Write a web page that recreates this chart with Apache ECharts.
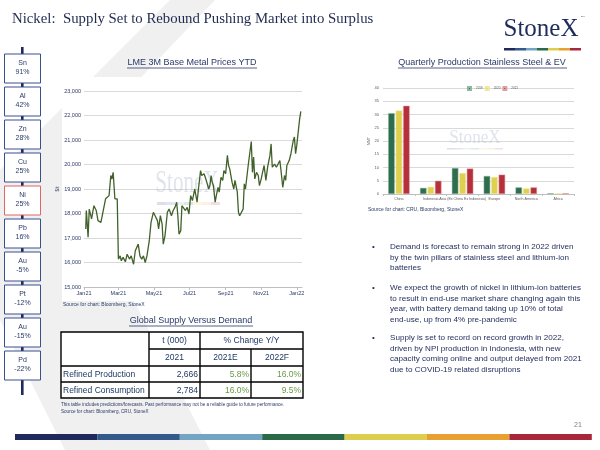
<!DOCTYPE html>
<html lang="en">
<head>
    <meta charset="UTF-8">
    <title>Nickel supply</title>
    <script src="https://cdn.jsdelivr.net/npm/echarts/dist/echarts.min.js"></script>
    <style>
        html, body { margin: 0; padding: 0; background: #fff; }
        #main { width: 600px; height: 450px; }
    </style>
</head>
<body>
<div id="main"></div>

<script>
    // LME 3M nickel, $/t
    var priceDates = [
        '2021-01-04','2021-01-05','2021-01-06','2021-01-08','2021-01-10','2021-01-14','2021-01-18','2021-01-22','2021-01-25','2021-01-30',
        '2021-02-03','2021-02-07','2021-02-10','2021-02-13','2021-02-16','2021-02-18','2021-02-20','2021-02-23','2021-02-25','2021-02-27',
        '2021-02-28','2021-03-01','2021-03-04','2021-03-06','2021-03-09','2021-03-13','2021-03-16','2021-03-20','2021-03-23','2021-03-27',
        '2021-03-30','2021-04-04','2021-04-07','2021-04-10','2021-04-13','2021-04-16','2021-04-19','2021-04-23','2021-04-26','2021-04-30',
        '2021-05-03','2021-05-07','2021-05-09','2021-05-12','2021-05-15','2021-05-17','2021-05-20','2021-05-24','2021-05-27','2021-05-31',
        '2021-06-03','2021-06-06','2021-06-09','2021-06-11','2021-06-13','2021-06-16','2021-06-18','2021-06-21','2021-06-24','2021-06-27',
        '2021-06-30','2021-07-03','2021-07-06','2021-07-10','2021-07-12','2021-07-14','2021-07-16','2021-07-20','2021-07-22','2021-07-26',
        '2021-07-29','2021-07-31','2021-08-03','2021-08-05','2021-08-07','2021-08-09','2021-08-11','2021-08-14','2021-08-16','2021-08-19',
        '2021-08-21','2021-08-24','2021-08-27','2021-08-29','2021-09-01','2021-09-04','2021-09-06','2021-09-08','2021-09-12','2021-09-15',
        '2021-09-17','2021-09-21','2021-09-23','2021-09-25','2021-09-28','2021-10-01','2021-10-03','2021-10-05','2021-10-08','2021-10-10',
        '2021-10-12','2021-10-15','2021-10-17','2021-10-19','2021-10-21','2021-10-24','2021-10-27','2021-10-29','2021-11-01','2021-11-04',
        '2021-11-06','2021-11-09','2021-11-12','2021-11-16','2021-11-18','2021-11-20','2021-11-24','2021-11-27','2021-11-30','2021-12-03',
        '2021-12-05','2021-12-08','2021-12-11','2021-12-13','2021-12-15','2021-12-19','2021-12-22','2021-12-26','2021-12-28','2021-12-30',
        '2022-01-01','2022-01-04','2022-01-06','2022-01-08'
    ];
    var nickelPrice = [
        17370, 18120, 17780, 17030, 18180, 17780, 18320, 18120, 17710, 17640,
        18120, 18600, 18530, 18730, 19550, 19410, 19680, 18600, 18660, 18600,
        17370, 16140, 16270, 16070, 16210, 16030, 16340, 16140, 16270, 15930,
        16480, 16750, 16270, 16140, 16270, 16000, 16270, 16890, 17640, 18050,
        17910, 17710, 17370, 17910, 17570, 16750, 17100, 18050, 18180, 17910,
        18120, 18250, 18460, 17910, 17160, 17300, 18320, 18320, 18120, 18250,
        17980, 18730, 18530, 19000, 18730, 18460, 18930, 19750, 19550, 19620,
        19410, 19480, 19000, 19140, 19550, 19280, 19140, 18460, 18730, 19070,
        18870, 19480, 19350, 19750, 19620, 20370, 19960, 19820, 19280, 19000,
        19350, 18870, 18050, 17910, 17910, 18180, 19210, 19000, 18930, 20020,
        20020, 20940, 19680, 20300, 19410, 19680, 19550, 19140, 19410, 19750,
        19960, 19350, 19890, 20370, 20840, 19890, 20020, 19890, 19960, 20160,
        19750, 19070, 19550, 19350, 19960, 20160, 20440, 20980, 21120, 20440,
        20780, 20800, 21870, 22170
    ];

    // quarterly production stainless steel & EV
    var regions = ['China', 'Indonesia', 'Asia (Ex China Ex Indonesia)', 'Europe', 'North America', 'Africa'];
    var years = ['2019', '2020', '2021'];
    var prod2019 = [30.5, 2.3, 9.8, 6.8, 2.5, 0.3];
    var prod2020 = [31.5, 2.7, 7.9, 6.4, 2.1, 0.3];
    var prod2021 = [33.3, 5.0, 9.6, 7.3, 2.5, 0.3];

    // sidebar
    var metals = ['Sn', 'Al', 'Zn', 'Cu', 'Ni', 'Pb', 'Au', 'Pt', 'Au', 'Pd'];
    var metalChange = ['91%', '42%', '28%', '25%', '25%', '16%', '-5%', '-12%', '-15%', '-22%'];

    // supply / demand table
    var tableRows = ['Refined Production', 'Refined Consumption'];
    var tonnes2021 = ['2,666', '2,784'];
    var change2021E = ['5.8%', '16.0%'];
    var change2022F = ['16.0%', '9.5%'];

    var bullets = [
        'Demand is forecast to remain strong in 2022 driven\nby the twin pillars of stainless steel and lithium-ion\nbatteries',
        'We expect the growth of nickel in lithium-ion batteries\nto result in end-use market share changing again this\nyear, with battery demand taking up 10% of total\nend-use, up from 4% pre-pandemic',
        'Supply is set to record on record growth in 2022,\ndriven by NPI production in Indonesia, with new\ncapacity coming online and output delayed from 2021\ndue to COVID-19 related disruptions'
    ];

    var stripeColors = ['#1f2a5a', '#335a8a', '#74a4c4', '#2a6a48', '#dccf50', '#e8a030', '#a8283a'];
    var navy = '#1f2a5a';
    var textBlue = '#2b3a67';
    var sans = '"Liberation Sans", Arial, sans-serif';
    var serif = '"Liberation Serif", "Times New Roman", serif';

    var monthNames = ['Jan', 'Feb', 'Mar', 'Apr', 'May', 'Jun', 'Jul', 'Aug', 'Sep', 'Oct', 'Nov', 'Dec'];

    var linePoints = [];
    for (var i = 0; i < priceDates.length; i++) {
        linePoints.push([priceDates[i] + 'T00:00:00', nickelPrice[i]]);
    }

    function txt(x, y, s, size, color, align, extra) {
        var el = {
            type: 'text', z: 10,
            style: {
                x: x, y: y, text: s, fill: color || textBlue,
                fontSize: size, fontFamily: sans,
                textAlign: align || 'left', textVerticalAlign: 'middle'
            }
        };
        if (extra) {
            for (var k in extra) el.style[k] = extra[k];
        }
        return el;
    }
    function seg(x1, y1, x2, y2, color, w, z) {
        return {type: 'line', z: z || 10, shape: {x1: x1, y1: y1, x2: x2, y2: y2},
            style: {stroke: color, lineWidth: w}};
    }
    function box(x, y, w, h, fill, stroke, lw, z) {
        return {type: 'rect', z: z || 5, shape: {x: x, y: y, width: w, height: h},
            style: {fill: fill, stroke: stroke || null, lineWidth: lw || 0}};
    }
    // condensed serif watermark
    function mark(x, y, size, sx) {
        return {type: 'text', z: 1, x: x, y: y, scaleX: sx,
            style: {x: 0, y: 0, text: 'StoneX', fill: 'rgba(175,185,205,0.4)', fontSize: size,
                fontFamily: serif, textAlign: 'center', textVerticalAlign: 'middle'}};
    }

    var g = [];
    // background chevron and white panels
    g.push({type: 'polygon', z: -10, shape: {points: [[170, 0], [215, 0], [62, 160], [210, 450], [65, 450], [0, 320], [0, 170]]},
        style: {fill: '#f0f0f0'}});
    g.push(box(62, 77, 240, 224, '#fff', null, 0, -8));
    g.push(box(355, 77, 240, 128, '#fff', null, 0, -8));

    // title and logo
    g.push(txt(12, 19, 'Nickel:  Supply Set to Rebound Pushing Market into Surplus', 14.8, '#1f2a4f', 'left', {fontFamily: serif}));
    g.push(txt(541, 29, 'StoneX', 25, '#1d2c5a', 'center', {fontFamily: serif}));
    g.push(txt(581, 16, 'TM', 2.5, '#1d2c5a', 'left'));
    for (i = 0; i < stripeColors.length; i++) {
        g.push(box(504 + i * 11, 48, 11, 2.5, stripeColors[i], null, 0, 10));
        g.push(box(15 + i * 82.4, 434, 82.4, 6, stripeColors[i], null, 0, 10));
    }
    g.push(txt(578, 425, '21', 7, '#7f7f7f', 'center'));

    // sidebar
    g.push(box(21, 47, 2.6, 348, navy, null, 0, 4));
    for (i = 0; i < metals.length; i++) {
        var boxTop = 54 + i * 33;
        g.push(box(4.5, boxTop, 36, 29, '#fff', metals[i] === 'Ni' ? '#e06666' : '#3b4f8f', 1, 6));
        g.push(txt(22.5, boxTop + 9, metals[i], 7, textBlue, 'center'));
        g.push(txt(22.5, boxTop + 18.5, metalChange[i], 7, textBlue, 'center'));
    }

    // chart titles (underlined)
    g.push(txt(192, 63, 'LME 3M Base Metal Prices YTD', 9, textBlue, 'center'));
    g.push(seg(127, 68, 257, 68, textBlue, 0.8));
    g.push(txt(482, 63, 'Quarterly Production Stainless Steel & EV', 9, textBlue, 'center'));
    g.push(seg(398, 68, 567, 68, textBlue, 0.8));
    g.push(txt(191, 321, 'Global Supply Versus Demand', 9, textBlue, 'center'));
    g.push(seg(129, 326, 253, 326, textBlue, 0.8));

    // watermarks
    g.push(mark(187, 184, 32, 0.66));
    g.push(mark(475, 138, 19, 0.9));
    for (i = 0; i < stripeColors.length; i++) {
        g.push({type: 'rect', z: 1, shape: {x: 157 + i * 9, y: 202, width: 9, height: 3}, style: {fill: stripeColors[i], opacity: 0.15}});
        g.push({type: 'rect', z: 1, shape: {x: 447 + i * 8, y: 148, width: 8, height: 1.5}, style: {fill: stripeColors[i], opacity: 0.15}});
    }

    // sources
    g.push(txt(63, 305, 'Source for chart: Bloomberg, StoneX', 5, textBlue));
    g.push(txt(368, 210, 'Source for chart: CRU, Bloomberg, StoneX', 5, textBlue));
    g.push(txt(61, 405, 'This table includes predictions/forecasts. Past performance may not be a reliable guide to future performance.', 4.6, textBlue));
    g.push(txt(61, 412, 'Source for chart: Bloomberg, CRU, StoneX', 4.6, textBlue));

    // table
    var ty = [332, 349, 366, 382, 398];
    g.push(box(61, 332, 242, 66, '#fff', '#000', 1.4, 6));
    g.push(seg(149, 332, 149, 398, '#000', 1.4));
    g.push(seg(200, 332, 200, 398, '#000', 1.4));
    g.push(seg(251, 349, 251, 398, '#000', 1.4));
    g.push(seg(149, 349, 303, 349, '#000', 1.4));
    g.push(seg(61, 366, 303, 366, '#000', 1.4));
    g.push(seg(61, 382, 303, 382, '#000', 1.4));
    var tcol = '#1f3864', pcol = '#6a9a45';
    g.push(txt(174.5, 341, 't (000)', 8.5, tcol, 'center'));
    g.push(txt(251.5, 341, '% Change Y/Y', 8.5, tcol, 'center'));
    g.push(txt(174.5, 358, '2021', 8.5, tcol, 'center'));
    g.push(txt(225.5, 358, '2021E', 8.5, tcol, 'center'));
    g.push(txt(277, 358, '2022F', 8.5, tcol, 'center'));
    for (i = 0; i < tableRows.length; i++) {
        var cy = (ty[i + 2] + ty[i + 3]) / 2 + 0.5;
        g.push(txt(63, cy, tableRows[i], 8.5, tcol, 'left'));
        g.push(txt(198, cy, tonnes2021[i], 8.5, tcol, 'right'));
        g.push(txt(249, cy, change2021E[i], 8.5, pcol, 'right'));
        g.push(txt(301, cy, change2022F[i], 8.5, pcol, 'right'));
    }

    // bullets
    var bulletTop = [242, 283, 333];
    for (i = 0; i < bullets.length; i++) {
        g.push(txt(372, bulletTop[i] + 5, '\u2022', 8, navy, 'left'));
        g.push({type: 'text', z: 10, style: {x: 390, y: bulletTop[i], text: bullets[i], fill: navy,
            fontSize: 8.1, fontFamily: sans, lineHeight: 10.5, textAlign: 'left', textVerticalAlign: 'top'}});
    }

    var myChart = echarts.init(document.getElementById('main'));
    var option = {
        backgroundColor: '#fff',
        animation: false,
        textStyle: {fontFamily: sans},
        graphic: {elements: g},
        legend: {
            data: years, left: 462, top: 81, itemWidth: 3, itemHeight: 3, itemGap: 2,
            textStyle: {fontSize: 3, color: '#595959'},
            icon: 'rect'
        },
        grid: [
            {left: 84, right: 298, top: 91, bottom: 163},
            {left: 383, right: 26, top: 88, bottom: 256}
        ],
        xAxis: [
            {
                type: 'time', gridIndex: 0, splitNumber: 6,
                min: '2021-01-01T00:00:00', max: '2022-01-10T00:00:00',
                axisLine: {lineStyle: {color: '#bfbfbf', width: 1}},
                axisTick: {show: true, length: 3, lineStyle: {color: '#bfbfbf'}},
                axisLabel: {
                    fontSize: 5.5, color: textBlue, margin: 3, hideOverlap: false,
                    formatter: function (v) {
                        var d = new Date(v);
                        return monthNames[d.getMonth()] + String(d.getFullYear()).slice(2);
                    }
                },
                splitLine: {show: false}
            },
            {
                type: 'category', gridIndex: 1, data: regions,
                axisLine: {lineStyle: {color: '#bfbfbf'}},
                axisTick: {show: true, length: 2, lineStyle: {color: '#bfbfbf'}},
                axisLabel: {fontSize: 3.6, color: '#595959', interval: 0, margin: 3}
            }
        ],
        yAxis: [
            {
                type: 'value', gridIndex: 0, min: 15000, max: 23000, interval: 1000,
                name: '$/t', nameLocation: 'middle', nameRotate: 90, nameGap: 14,
                nameTextStyle: {fontSize: 4.5, color: textBlue},
                axisLine: {show: false}, axisTick: {show: false},
                axisLabel: {
                    fontSize: 5.5, color: textBlue, margin: 3,
                    formatter: function (v) { return v.toLocaleString('en-US'); }
                },
                splitLine: {lineStyle: {color: '#d9d9d9', width: 1}}
            },
            {
                type: 'value', gridIndex: 1, min: 0, max: 40, interval: 5,
                name: 'MMT', nameLocation: 'middle', nameRotate: 90, nameGap: 11,
                nameTextStyle: {fontSize: 3.5, color: '#595959'},
                axisLine: {show: false}, axisTick: {show: false},
                axisLabel: {fontSize: 4, color: '#595959', margin: 4},
                splitLine: {lineStyle: {color: '#d9d9d9', width: 1}}
            }
        ],
        series: [
            {
                name: 'LME 3M Nickel', type: 'line', xAxisIndex: 0, yAxisIndex: 0,
                data: linePoints, showSymbol: false, z: 5,
                lineStyle: {color: '#41612a', width: 1.3}
            },
            {
                name: '2019', type: 'bar', xAxisIndex: 1, yAxisIndex: 1, data: prod2019,
                barWidth: 6.5, barGap: '15%',
                itemStyle: {color: '#2e6e4e', borderColor: '#8fb8a0', borderWidth: 0.5}
            },
            {
                name: '2020', type: 'bar', xAxisIndex: 1, yAxisIndex: 1, data: prod2020,
                barWidth: 6.5, barGap: '15%',
                itemStyle: {color: '#e0d050', borderColor: '#f0e8a0', borderWidth: 0.5}
            },
            {
                name: '2021', type: 'bar', xAxisIndex: 1, yAxisIndex: 1, data: prod2021,
                barWidth: 6.5, barGap: '15%',
                itemStyle: {color: '#b5303b', borderColor: '#e0a0a0', borderWidth: 0.5}
            }
        ]
    };
    myChart.setOption(option);
</script>

</body>
</html>
